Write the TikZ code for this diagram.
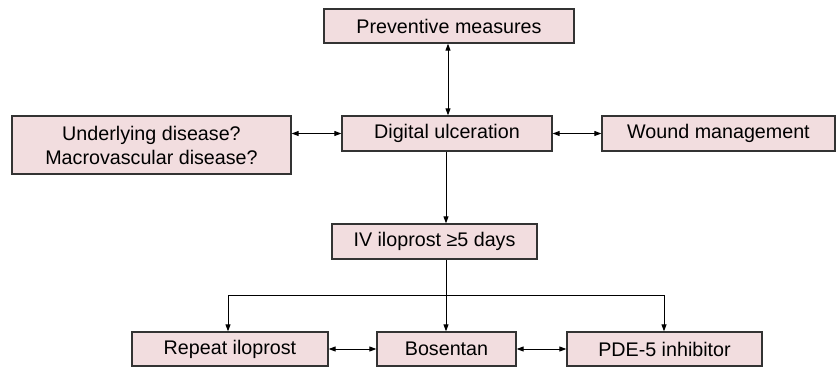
\documentclass[tikz,border=0pt]{standalone}
\usepackage{fontspec}
\setmainfont{Liberation Sans}
\usetikzlibrary{arrows.meta}
\definecolor{boxfill}{HTML}{F2DDDF}
\definecolor{boxline}{HTML}{333333}
\tikzset{
  flowbox/.style={draw=boxline, fill=boxfill, line width=1.3pt, inner sep=0pt,
    font=\fontsize{19.7}{24}\selectfont, align=center},
  conn/.style={line width=1pt, black},
  tip/.style={-{Triangle[length=7pt,width=5pt]}},
  twotip/.style={{Triangle[length=7pt,width=5pt]}-{Triangle[length=7pt,width=5pt]}}
}
\begin{document}
\begin{tikzpicture}[x=1pt,y=-1pt]
\useasboundingbox (0,0) rectangle (839,367);
\node[flowbox, minimum width=250pt, minimum height=34pt] (prev) at (449,26) {Preventive measures};
\node[flowbox, minimum width=279pt, minimum height=58pt] (und) at (151.5,145) {Underlying disease?\\Macrovascular disease?};
\node[flowbox, minimum width=210pt, minimum height=35pt] (dig) at (447,133.5) {Digital ulceration};
\node[flowbox, minimum width=233pt, minimum height=35pt] (wound) at (718.5,133.5) {Wound management};
\node[flowbox, minimum width=205pt, minimum height=35pt] (iv) at (434.5,241.5) {IV iloprost ≥5 days};
\node[flowbox, minimum width=196pt, minimum height=34pt] (rep) at (230,349) {Repeat iloprost};
\node[flowbox, minimum width=139pt, minimum height=34pt] (bos) at (446.5,349) {Bosentan};
\node[flowbox, minimum width=195pt, minimum height=34pt] (pde) at (664.5,349) {PDE-5 inhibitor};
\coordinate (split) at (446,295);
\draw[conn, twotip] ([xshift=-1pt]prev.south) -- ([xshift=-1pt]prev.south |- dig.north);
\draw[conn, twotip] (und.east |- dig) -- (dig.west);
\draw[conn, twotip] (dig.east) -- (wound.west);
\draw[conn, tip] ([xshift=-1pt]dig.south) -- ([xshift=-1pt]dig.south |- iv.north);
\draw[conn] (iv.south -| split) -- (split);
\draw[conn, tip] (split) -| ([xshift=-2pt]rep.north);
\draw[conn, tip] (split) -| ([xshift=-0.5pt]pde.north);
\draw[conn, tip] (split) -- (bos.north -| split);
\draw[conn, twotip] (rep.east) -- (bos.west);
\draw[conn, twotip] (bos.east) -- (pde.west);
\end{tikzpicture}
\end{document}
